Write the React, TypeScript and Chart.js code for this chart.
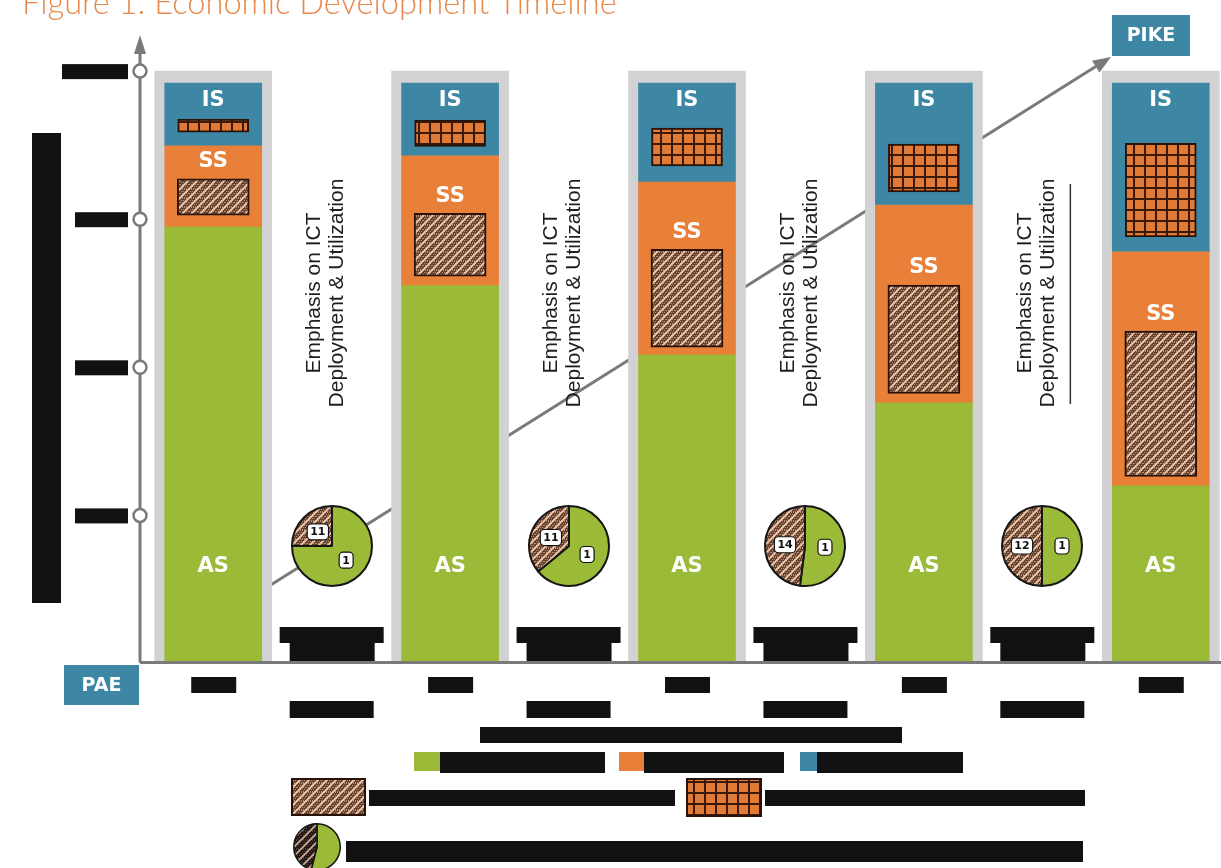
import React, { useEffect, useRef } from "react";
import { Chart, registerables } from "chart.js";

Chart.register(...registerables);

// ---------- DATA ----------
const slotLabels = ["Stage 1", "Shift 1", "Stage 2", "Shift 2", "Stage 3", "Shift 3", "Stage 4", "Shift 4", "Stage 5"];
const stageSlots = [0, 2, 4, 6, 8];
const shiftSlots = [1, 3, 5, 7];
const asValues = [73.8, 63.9, 52.2, 44.1, 30.1];
const ssValues = [13.7, 21.9, 29.2, 33.4, 39.5];
const isValues = [10.5, 12.2, 16.6, 20.5, 28.4];
const ssHatchRanges = [[75.7, 81.8], [65.4, 76.0], [53.4, 69.9], [45.6, 63.9], [31.6, 56.1]];
const isGridRanges = [[89.7, 91.9], [87.3, 91.7], [84.0, 90.4], [79.6, 87.7], [72.0, 87.8]];
const columnFull = 100;
const yTickValues = [25, 50, 75, 100];
const pieHatchShare = [25, 36, 48, 50];
const pieGreenShare = [75, 64, 52, 50];
const pieHatchLabels = ["11", "11", "14", "12"];
const pieGreenLabels = ["1", "1", "1", "1"];
const legendPieShare = [46, 54];
const sectorLabels = ["AS", "SS", "IS"];
const titleText = "Figure 1: Economic Development Timeline";
const shiftText = ["Emphasis on ICT", "Deployment & Utilization"];
const startLabel = "PAE";
const endLabel = "PIKE";

// ---------- STYLE ----------
const GREEN = "#9bba38";
const ORANGE = "#e8803a";
const TEAL = "#3d87a4";
const GRAY = "#d2d2d4";
const AXIS = "#7a7a7a";
const INK = "#111111";

function makeHatch(base: string, dot: string, stripe: string, size = 9) {
  const c = document.createElement("canvas");
  c.width = size; c.height = size;
  const g = c.getContext("2d")!;
  g.fillStyle = base; g.fillRect(0, 0, size, size);
  g.fillStyle = dot;
  for (let yy = 0; yy < size; yy += 2) for (let xx = (yy / 2) % 2; xx < size; xx += 2) g.fillRect(xx, yy, 1, 1);
  g.strokeStyle = stripe; g.lineWidth = 1.8;
  g.beginPath();
  g.moveTo(-1, size + 1); g.lineTo(size + 1, -1);
  g.moveTo(-2, 2); g.lineTo(2, -2);
  g.moveTo(size - 2, size + 2); g.lineTo(size + 2, size - 2);
  g.stroke();
  return g.createPattern(c, "repeat")!;
}

function makeGrid(size = 11) {
  const c = document.createElement("canvas");
  c.width = size; c.height = size;
  const g = c.getContext("2d")!;
  g.fillStyle = "#e07a36"; g.fillRect(0, 0, size, size);
  g.fillStyle = "#3b1a0b";
  g.fillRect(0, 0, size, 2);
  g.fillRect(0, 0, 2, size);
  return g.createPattern(c, "repeat")!;
}

function spread(values: any[]) {
  const out: any[] = slotLabels.map(() => null);
  stageSlots.forEach((s, i) => (out[s] = values[i]));
  return out;
}

export default function App() {
  const mainRef = useRef<HTMLCanvasElement | null>(null);
  const pieRefs = useRef<(HTMLCanvasElement | null)[]>([]);
  const legendPieRef = useRef<HTMLCanvasElement | null>(null);

  useEffect(() => {
    const charts: Chart[] = [];
    const hatch = makeHatch("#64402e", "#b88e7c", "#f4cba8");
    const darkHatch = makeHatch("#1e1410", "#5a4030", "#c8a898");
    const grid = makeGrid();

    const asRange = asValues.map((v) => [0, v]);
    const ssRange = asValues.map((v, i) => [v, v + ssValues[i]]);
    const isRange = asValues.map((v, i) => [v + ssValues[i], v + ssValues[i] + isValues[i]]);
    const bgRange = asValues.map(() => [0, columnFull]);

    const decor = {
      id: "decor",
      beforeDatasetsDraw(chart: any) {
        const ctx = chart.ctx as CanvasRenderingContext2D;
        const x0 = 250, y0 = 598, x1 = 1111, y1 = 57;
        ctx.save();
        ctx.strokeStyle = AXIS; ctx.fillStyle = AXIS; ctx.lineWidth = 3;
        const ang = Math.atan2(y1 - y0, x1 - x0);
        const bx = x1 - 18 * Math.cos(ang), by = y1 - 18 * Math.sin(ang);
        ctx.beginPath(); ctx.moveTo(x0, y0); ctx.lineTo(bx, by); ctx.stroke();
        ctx.beginPath();
        ctx.moveTo(x1, y1);
        ctx.lineTo(bx + 7 * Math.sin(ang), by - 7 * Math.cos(ang));
        ctx.lineTo(bx - 7 * Math.sin(ang), by + 7 * Math.cos(ang));
        ctx.closePath(); ctx.fill();
        ctx.restore();
      },
      afterDatasetsDraw(chart: any) {
        const ctx = chart.ctx as CanvasRenderingContext2D;
        const xs = chart.scales.x, ys = chart.scales.y;
        ctx.save();
        ctx.fillStyle = "#ffffff";
        ctx.font = 'bold 21px "DejaVu Sans"';
        ctx.textAlign = "center"; ctx.textBaseline = "middle";
        stageSlots.forEach((s, i) => {
          const cx = xs.getPixelForValue(s);
          ctx.fillText(sectorLabels[2], cx, ys.getPixelForValue(isRange[i][1]) + 18);
          ctx.fillText(sectorLabels[1], cx, ys.getPixelForValue(ssHatchRanges[i][1]) - 17);
          ctx.fillText(sectorLabels[0], cx, 567);
        });
        shiftSlots.forEach((s, k) => {
          const cx = xs.getPixelForValue(s);
          ctx.fillStyle = "#1e1e1e";
          ctx.font = '21px "Liberation Sans"';
          ctx.textAlign = "center"; ctx.textBaseline = "middle";
          [-17, 6].forEach((dx, li) => {
            ctx.save();
            ctx.translate(cx + dx, 293);
            ctx.rotate(-Math.PI / 2);
            ctx.fillText(shiftText[li], 0, 0);
            ctx.restore();
          });
          if (k === 3) {
            ctx.strokeStyle = "#333"; ctx.lineWidth = 1.5;
            ctx.beginPath(); ctx.moveTo(cx + 28, 184); ctx.lineTo(cx + 28, 404); ctx.stroke();
          }
          ctx.fillStyle = INK;
          ctx.fillRect(cx - 52, 627, 104, 16);
          ctx.fillRect(cx - 42, 643, 85, 20);
        });
        ctx.strokeStyle = AXIS; ctx.fillStyle = AXIS; ctx.lineWidth = 3;
        const ax = 140, base = 662.5;
        ctx.beginPath(); ctx.moveTo(ax, base); ctx.lineTo(1221, base); ctx.stroke();
        ctx.beginPath(); ctx.moveTo(ax, base); ctx.lineTo(ax, 50); ctx.stroke();
        ctx.beginPath(); ctx.moveTo(ax, 35); ctx.lineTo(ax - 6, 54); ctx.lineTo(ax + 6, 54); ctx.closePath(); ctx.fill();
        yTickValues.forEach((v, i) => {
          const py = ys.getPixelForValue(v);
          ctx.fillStyle = INK;
          if (i === yTickValues.length - 1) ctx.fillRect(62, py - 7, 66, 15);
          else ctx.fillRect(75, py - 7, 53, 15);
          ctx.beginPath(); ctx.arc(ax, py, 6.5, 0, Math.PI * 2);
          ctx.fillStyle = "#ffffff"; ctx.fill();
          ctx.strokeStyle = AXIS; ctx.lineWidth = 2.5; ctx.stroke();
        });
        ctx.restore();
      },
      afterDraw(chart: any) {
        const ctx = chart.ctx as CanvasRenderingContext2D;
        const xs = chart.scales.x;
        ctx.save();
        ctx.font = '300 26px "Lato"';
        const w = ctx.measureText(titleText).width;
        const fs = (26 * 595) / w;
        ctx.font = `300 ${fs}px "Lato"`;
        ctx.fillStyle = "#e8894c"; ctx.textAlign = "left"; ctx.textBaseline = "alphabetic";
        ctx.fillText(titleText, 22, 14);
        ctx.fillStyle = INK;
        ctx.fillRect(32, 133, 29, 470);
        ctx.fillStyle = TEAL;
        ctx.fillRect(64, 665, 75, 40);
        ctx.fillRect(1112, 15, 78, 41);
        ctx.fillStyle = "#ffffff";
        ctx.font = 'bold 19px "DejaVu Sans"';
        ctx.textAlign = "center"; ctx.textBaseline = "middle";
        ctx.fillText(startLabel, 101.5, 686);
        ctx.fillText(endLabel, 1151, 36);
        ctx.fillStyle = INK;
        stageSlots.forEach((s) => { const cx = xs.getPixelForValue(s); ctx.fillRect(cx - 22, 677, 45, 16); });
        shiftSlots.forEach((s) => { const cx = xs.getPixelForValue(s); ctx.fillRect(cx - 42, 701, 84, 17); });
        ctx.fillRect(480, 727, 422, 16);
        const sw = [[414, 440, 605, GREEN], [619, 644, 784, ORANGE], [800, 817, 963, TEAL]] as const;
        sw.forEach(([a, b, c, col]) => {
          ctx.fillStyle = col as string; ctx.fillRect(a, 752, b - a, 19);
          ctx.fillStyle = INK; ctx.fillRect(b, 752, c - b, 21);
        });
        ctx.fillStyle = hatch; ctx.fillRect(292, 779, 73, 36);
        ctx.strokeStyle = "#2a1208"; ctx.lineWidth = 2; ctx.strokeRect(292, 779, 73, 36);
        ctx.fillStyle = INK; ctx.fillRect(369, 790, 306, 16);
        ctx.fillStyle = grid; ctx.fillRect(687, 779, 74, 37);
        ctx.strokeStyle = "#2a1208"; ctx.strokeRect(687, 779, 74, 37);
        ctx.fillStyle = INK; ctx.fillRect(765, 790, 320, 16);
        ctx.fillRect(346, 841, 737, 21);
        ctx.restore();
      },
    };

    const main = new Chart(mainRef.current!, {
      type: "bar",
      data: {
        labels: slotLabels,
        datasets: [
          { label: "IS knowledge", data: spread(isGridRanges), backgroundColor: grid, borderColor: "#2a1208", borderWidth: 2, borderSkipped: false, barThickness: 71, grouped: false, order: 1 } as any,
          { label: "SS knowledge", data: spread(ssHatchRanges), backgroundColor: hatch, borderColor: "#2a1208", borderWidth: 2, borderSkipped: false, barThickness: 72, grouped: false, order: 1 } as any,
          { label: "IS", data: spread(isRange), backgroundColor: TEAL, barThickness: 97, grouped: false, order: 2 } as any,
          { label: "SS", data: spread(ssRange), backgroundColor: ORANGE, barThickness: 97, grouped: false, order: 2 } as any,
          { label: "AS", data: spread(asRange), backgroundColor: GREEN, barThickness: 97, grouped: false, order: 2 } as any,
          { label: "column", data: spread(bgRange), backgroundColor: GRAY, barThickness: 117, grouped: false, order: 3 } as any,
        ],
      },
      options: {
        animation: false,
        responsive: false,
        devicePixelRatio: 1,
        layout: { padding: { left: 154, right: 1, top: 41.5, bottom: 204.5 } },
        plugins: { legend: { display: false }, tooltip: { enabled: false }, title: { display: false } },
        scales: {
          x: { display: false, stacked: false, offset: true },
          y: { display: false, stacked: false, min: 0, max: 105 },
        },
      } as any,
      plugins: [decor],
    });
    charts.push(main);

    const pieLabelPlugin = (labels: string[]) => ({
      id: "pieLabels",
      afterDatasetsDraw(chart: any) {
        const ctx = chart.ctx as CanvasRenderingContext2D;
        const meta = chart.getDatasetMeta(0);
        ctx.save();
        ctx.font = 'bold 11px "DejaVu Sans"';
        ctx.textAlign = "center"; ctx.textBaseline = "middle";
        meta.data.forEach((el: any, i: number) => {
          const p = el.tooltipPosition();
          const t = labels[i];
          if (!t) return;
          const bw = Math.max(14, ctx.measureText(t).width + 6);
          ctx.fillStyle = "#ffffff";
          ctx.strokeStyle = "#111"; ctx.lineWidth = 1.2;
          ctx.beginPath(); (ctx as any).roundRect(p.x - bw / 2, p.y - 8, bw, 16, 4); ctx.fill(); ctx.stroke();
          ctx.fillStyle = "#111"; ctx.fillText(t, p.x, p.y + 0.5);
        });
        ctx.restore();
      },
    });

    shiftSlots.forEach((s, k) => {
      const cv = pieRefs.current[k]!;
      const cx = main.scales.x.getPixelForValue(s);
      cv.style.left = `${cx - 43}px`;
      cv.style.top = `${546 - 43}px`;
      charts.push(
        new Chart(cv, {
          type: "pie",
          data: {
            labels: ["AS", "ICT"],
            datasets: [{ data: [pieGreenShare[k], pieHatchShare[k]], backgroundColor: [GREEN, hatch], borderColor: "#161616", borderWidth: 2 }],
          },
          options: {
            animation: false, responsive: false, devicePixelRatio: 1,
            layout: { padding: 2 },
            plugins: { legend: { display: false }, tooltip: { enabled: false } },
          } as any,
          plugins: [pieLabelPlugin([pieGreenLabels[k], pieHatchLabels[k]])],
        })
      );
    });

    charts.push(
      new Chart(legendPieRef.current!, {
        type: "pie",
        data: {
          labels: ["AS", "ICT"],
          datasets: [{ data: [legendPieShare[1], legendPieShare[0]], backgroundColor: [GREEN, darkHatch], borderColor: "#161616", borderWidth: 1.5 }],
        },
        options: {
          animation: false, responsive: false, devicePixelRatio: 1,
          layout: { padding: 1 },
          plugins: { legend: { display: false }, tooltip: { enabled: false } },
        } as any,
        plugins: [pieLabelPlugin(["", ""])],
      })
    );

    return () => charts.forEach((c) => c.destroy());
  }, []);

  return (
    <div style={{ position: "absolute", left: 0, top: 0, width: 1221, height: 868, background: "#ffffff", overflow: "hidden" }}>
      <canvas ref={mainRef} width={1221} height={868} style={{ position: "absolute", left: 0, top: 0 }} />
      {shiftSlots.map((s, k) => (
        <canvas
          key={s}
          ref={(el) => { pieRefs.current[k] = el; }}
          width={86}
          height={86}
          style={{ position: "absolute", left: 0, top: 0 }}
        />
      ))}
      <canvas ref={legendPieRef} width={50} height={50} style={{ position: "absolute", left: 292, top: 822 }} />
    </div>
  );
}
